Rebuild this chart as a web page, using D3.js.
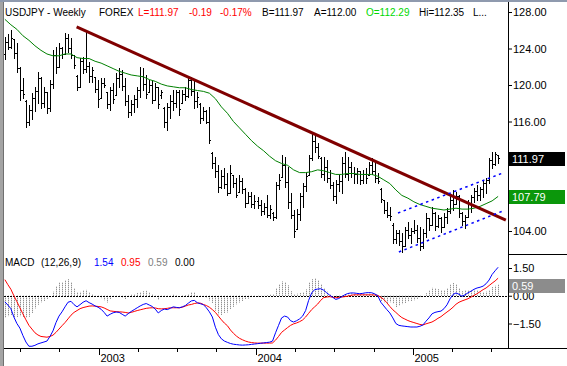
<!DOCTYPE html>
<html>
<head>
<meta charset="utf-8">
<script src="https://cdn.jsdelivr.net/npm/d3@7"></script>
<style>
  body { margin: 0; background: #fff; }
  svg { display: block; font-family: "Liberation Sans", Arial, sans-serif; }
</style>
</head>
<body>
<div id="chart"></div>
<script>
// weekly USDJPY bars, first bar is the week of 2002-05-27
var firstWeek = '2002-05-27';

var high = [125.3,125.6,126.0,125.0,124.6,122.0,120.8,118.4,117.8,119.1,
  119.8,121.4,120.9,119.8,119.2,120.5,123.8,124.2,124.6,124.2,
  125.7,125.6,125.2,123.3,121.1,123.0,123.1,125.9,122.5,122.0,
  120.9,120.5,120.8,120.8,119.2,119.8,120.2,121.3,121.9,121.6,
  120.8,118.9,118.4,118.9,119.8,122.0,121.9,121.1,120.5,120.5,
  120.2,119.8,119.5,117.6,118.0,118.9,119.5,119.5,119.5,119.5,
  119.8,121.0,120.9,120.5,119.2,118.0,117.6,117.3,117.6,112.7,
  112.1,111.2,110.7,110.9,110.4,111.2,110.1,109.8,110.1,109.8,
  108.7,108.3,108.3,107.9,107.7,107.4,107.1,107.9,106.8,106.1,
  109.4,110.3,112.3,112.1,111.0,108.2,106.3,106.4,108.2,109.3,
  110.4,112.3,114.8,114.5,113.6,112.1,112.1,111.8,110.7,109.4,
  109.6,110.1,112.1,112.7,112.1,111.6,111.0,110.9,110.6,110.7,
  110.9,111.6,112.0,111.6,110.4,108.7,107.4,107.2,106.6,104.9,
  104.1,104.1,103.8,104.4,105.0,104.3,105.2,104.7,104.4,104.2,
  106.0,105.4,106.6,106.1,105.8,105.5,106.0,106.5,108.0,108.5,
  108.3,108.0,106.1,105.8,107.4,108.0,108.7,109.0,108.8,109.6,
  109.8,112.0,112.7,112.7,112.35];

var low = [122.8,123.9,124.1,123.0,121.4,118.4,118.6,115.4,115.6,116.3,
  117.2,118.0,117.5,117.6,116.9,117.2,119.7,121.3,122.0,123.0,
  123.4,123.6,123.0,121.9,119.5,119.8,121.3,121.4,120.3,120.3,
  119.2,117.6,118.6,119.8,117.5,117.3,118.0,118.9,119.8,119.5,
  117.8,116.5,116.7,117.0,117.6,118.7,119.5,118.6,119.2,118.0,
  118.4,117.5,118.6,115.4,115.1,116.4,117.3,117.6,116.7,118.0,
  118.4,118.7,118.9,117.5,117.6,115.8,116.2,115.8,113.6,110.9,
  109.9,108.3,108.7,108.7,107.9,108.2,108.8,107.7,108.3,108.2,
  106.6,107.1,106.6,106.5,106.5,105.8,105.9,105.5,105.4,105.2,
  105.4,108.6,109.9,108.8,106.5,105.4,103.3,104.2,105.2,106.6,
  108.4,110.1,111.8,112.7,112.0,109.9,109.6,109.4,108.7,107.4,
  107.1,108.4,108.2,109.9,109.6,109.9,109.3,109.3,109.1,109.3,
  109.3,110.1,110.3,109.4,109.3,107.2,106.0,105.5,105.2,102.7,
  102.7,102.5,101.7,102.4,103.2,102.7,103.8,102.8,101.9,102.1,
  103.3,104.1,104.7,104.1,104.4,103.9,104.4,104.9,106.0,106.3,
  107.0,105.5,104.7,104.3,105.5,106.1,107.2,107.4,107.4,107.7,
  108.2,109.3,110.9,111.2,111.5];

var open = [123.4,124.7,124.2,125.0,123.5,121.9,119.5,118.2,116.0,117.3,
  118.6,119.3,120.8,118.0,119.2,117.5,120.1,123.3,122.0,124.1,
  123.4,125.1,124.0,123.3,121.0,119.8,122.6,121.8,122.1,121.0,
  120.9,119.6,118.6,120.2,119.2,117.9,119.4,118.9,120.8,121.2,
  119.9,118.2,117.0,117.9,118.5,119.5,121.0,120.1,119.2,120.0,
  118.4,119.8,118.9,117.5,116.0,117.6,118.3,118.0,119.2,118.0,
  119.0,118.8,120.6,119.3,118.2,117.9,116.4,117.2,116.0,112.5,
  111.5,110.6,108.8,110.0,109.1,108.2,110.1,109.3,108.3,109.5,
  108.6,107.1,107.8,107.0,107.3,106.8,106.2,106.6,105.8,106.0,
  105.5,109.0,109.9,111.2,109.4,107.2,105.8,104.2,105.9,107.8,
  108.9,110.1,112.0,113.9,113.2,112.0,110.3,111.0,109.8,109.0,
  107.8,109.1,109.5,111.5,110.3,111.0,110.4,110.2,110.6,109.6,
  110.3,110.1,111.2,110.6,109.8,108.6,107.4,106.3,105.8,104.7,
  103.1,103.8,102.9,102.4,104.1,103.6,104.0,104.1,103.2,102.4,
  103.8,105.4,104.7,106.0,104.6,105.4,104.4,105.5,106.2,107.4,
  107.0,107.8,106.0,105.1,105.5,107.1,107.7,108.4,108.0,108.6,
  109.3,109.6,111.8,111.3,112.29];

var close = [124.7,124.2,125.2,123.5,121.9,119.5,119.0,116.0,117.3,118.6,
  119.3,120.8,118.0,119.2,117.5,120.1,123.3,122.0,124.1,123.4,
  125.1,124.0,123.3,122.2,119.8,122.6,121.8,122.1,121.0,121.6,
  119.6,118.5,120.2,120.0,117.9,119.4,118.5,120.8,121.2,119.9,
  118.2,117.0,117.9,118.5,119.5,121.0,120.1,119.0,120.0,118.4,
  119.8,117.9,119.2,116.0,117.6,118.3,118.0,119.2,117.4,119.0,
  118.8,120.6,119.3,118.2,118.7,116.4,117.2,116.0,114.0,111.5,
  110.6,108.8,110.0,109.1,108.2,110.4,109.3,108.0,109.5,108.6,
  107.1,107.8,107.0,107.3,106.8,106.2,106.6,105.8,106.4,105.5,
  109.0,109.6,111.2,109.4,107.2,105.8,104.0,105.9,107.8,108.9,
  110.0,112.0,113.9,113.2,112.2,110.3,111.0,109.8,109.0,107.8,
  109.1,109.5,111.5,110.3,111.0,110.4,110.2,110.6,109.6,110.3,
  109.8,111.2,110.6,109.8,109.5,107.5,106.3,105.8,105.6,103.1,
  103.8,102.9,102.4,104.1,103.6,104.0,104.1,103.2,102.4,103.8,
  105.4,104.7,106.0,104.6,105.4,104.4,105.5,106.2,107.4,107.0,
  107.8,106.0,105.1,105.5,107.1,107.7,108.4,108.0,108.6,109.3,
  109.6,111.8,111.3,112.4,111.97];

// green moving average, read every 2nd week
var maEvery = 2;
var ma = [127.2,126.6,126.1,125.4,124.9,124.3,123.8,123.4,123.2,123.2,
  123.4,123.4,123.0,122.9,122.9,122.6,122.4,122.1,121.8,121.5,
  121.3,121.1,121.0,120.9,120.6,120.4,120.1,119.9,119.8,119.7,
  119.7,119.5,119.4,119.3,119.1,118.5,117.6,116.9,116.0,115.3,
  114.6,113.9,113.3,112.8,112.2,111.7,111.4,111.2,110.7,110.4,
  110.4,110.5,110.7,110.6,110.4,110.2,110.2,110.3,110.3,110.2,
  110.2,110.2,110.0,109.6,109.2,108.5,107.9,107.6,107.2,106.9,
  106.7,106.5,106.4,106.3,106.4,106.5,106.4,106.4,106.5,106.7,
  107.0,107.3,107.79];

// MACD (12,26,9) line and signal, weekly
var macd = [-0.33,-0.5,-0.7,-1.15,-1.5,-1.75,-2.15,-2.5,-2.73,-2.73,
  -2.68,-2.6,-2.55,-2.5,-2.45,-2.2,-1.9,-1.45,-1.1,-0.87,
  -0.6,-0.35,-0.3,-0.48,-0.6,-0.48,-0.35,-0.27,-0.37,-0.45,
  -0.55,-0.62,-0.73,-0.9,-1.1,-1.0,-0.92,-0.88,-0.9,-1.0,
  -1.1,-0.97,-0.85,-0.75,-0.65,-0.55,-0.47,-0.42,-0.5,-0.58,
  -0.72,-0.93,-0.8,-0.72,-0.75,-0.68,-0.6,-0.63,-0.65,-0.6,
  -0.53,-0.4,-0.28,-0.25,-0.38,-0.43,-0.48,-0.65,-0.87,-1.15,
  -1.7,-2.1,-2.33,-2.45,-2.52,-2.58,-2.62,-2.64,-2.66,-2.67,
  -2.66,-2.65,-2.63,-2.61,-2.59,-2.57,-2.55,-2.53,-2.51,-2.45,
  -2.0,-1.6,-1.2,-1.1,-1.15,-1.35,-1.42,-1.35,-1.25,-1.1,
  -0.8,-0.25,0.15,0.33,0.36,0.38,0.3,0.16,0.03,-0.08,
  -0.2,-0.15,-0.05,0.05,0.12,0.15,0.15,0.13,0.11,0.13,
  0.16,0.17,0.16,0.1,0.0,-0.35,-0.55,-0.75,-0.93,-1.2,
  -1.5,-1.6,-1.63,-1.65,-1.67,-1.69,-1.69,-1.69,-1.65,-1.58,
  -1.38,-1.2,-0.98,-0.9,-0.86,-0.83,-0.7,-0.49,-0.17,0.07,
  0.15,0.08,-0.03,0.05,0.16,0.25,0.35,0.42,0.46,0.52,
  0.65,0.85,1.15,1.35,1.54];

var signal = [0.87,0.6,0.35,0.0,-0.32,-0.65,-0.98,-1.3,-1.6,-1.8,
  -2.0,-2.12,-2.2,-2.22,-2.24,-2.2,-2.13,-1.98,-1.8,-1.62,
  -1.45,-1.25,-1.05,-0.9,-0.8,-0.7,-0.64,-0.6,-0.56,-0.55,
  -0.56,-0.58,-0.6,-0.66,-0.74,-0.82,-0.84,-0.86,-0.87,-0.88,
  -0.9,-0.93,-0.9,-0.85,-0.8,-0.76,-0.72,-0.68,-0.66,-0.65,
  -0.66,-0.7,-0.71,-0.7,-0.68,-0.65,-0.65,-0.65,-0.65,-0.62,
  -0.56,-0.5,-0.47,-0.42,-0.39,-0.4,-0.47,-0.53,-0.62,-0.75,
  -0.9,-1.1,-1.3,-1.48,-1.62,-1.85,-2.03,-2.18,-2.3,-2.38,
  -2.45,-2.5,-2.53,-2.55,-2.56,-2.56,-2.56,-2.56,-2.56,-2.55,
  -2.4,-2.2,-1.98,-1.85,-1.72,-1.6,-1.52,-1.47,-1.4,-1.31,
  -1.15,-0.95,-0.75,-0.6,-0.45,-0.25,-0.1,-0.07,-0.05,-0.08,
  -0.11,-0.09,-0.07,-0.05,-0.02,0.02,0.05,0.05,0.05,0.05,
  0.05,0.05,0.05,0.04,0.02,-0.08,-0.2,-0.38,-0.58,-0.76,
  -0.9,-1.05,-1.18,-1.26,-1.34,-1.4,-1.45,-1.5,-1.55,-1.58,
  -1.52,-1.47,-1.42,-1.33,-1.22,-1.13,-1.0,-0.88,-0.76,-0.62,
  -0.46,-0.35,-0.28,-0.22,-0.16,-0.07,0.02,0.11,0.22,0.33,
  0.42,0.55,0.68,0.8,0.95];

// drawn lines: [date, price]
var trendLine = [['2002-11-10', 126.36], ['2005-08-05', 105.2]];
var channelUpper = [['2004-11-27', 105.97], ['2005-07-29', 110.36]];
var channelLower = [['2004-11-29', 101.7], ['2005-07-29', 106.19]];

// 112.00 sits fully under the last price box, so only its tick shows
var priceTicks = [128, 124, 120, 116, 112, 108, 104];
var priceLabels = ['128.00', '124.00', '120.00', '116.00', '', '108.00', '104.00'];
var macdTicks = [1.5, 0, -1.5];

var titleParts = ['USDJPY - Weekly', 'FOREX', 'L=111.97', '-0.19', '-0.17%', 'B=111.97', 'A=112.00', 'O=112.29', 'Hi=112.35', 'L...'];
var titleColors = ['#000', '#000', '#f00', '#f00', '#f00', '#000', '#000', '#00d800', '#000', '#000'];
var titleX = [5, 99, 138, 189, 220, 262, 314, 366, 419, 473];

var macdParts = ['MACD', '(12,26,9)', '1.54', '0.95', '0.59', '0.00'];
var macdColors = ['#000', '#000', '#00f', '#f00', '#808080', '#000'];
var macdX = [5, 41, 94, 121, 148, 175];

var lastPrice = 111.97, lastMa = 107.79, lastHist = 0.59;

var width = 567, height = 366;
var svg = d3.select('#chart').append('svg')
  .attr('width', width)
  .attr('height', height);

var parse = d3.timeParse('%Y-%m-%d');
var start = parse(firstWeek);
var dates = close.map(function(d, i) { return d3.timeDay.offset(start, 7 * i); });

var x = d3.scaleTime()
  .domain([parse('2002-05-25'), parse('2005-08-10')])
  .range([4, 508]);
var y = d3.scaleLinear().domain([104, 128]).range([231, 12]);
var ym = d3.scaleLinear().domain([-1.5, 1.5]).range([323.5, 268]);

function px(d) { return Math.round(x(d)); }

// frame bits
svg.append('rect').attr('x', 0).attr('y', 0).attr('width', 3).attr('height', height).attr('fill', '#a4a4a4');
svg.append('line').attr('x1', 3.5).attr('x2', 3.5).attr('y1', 0).attr('y2', height).attr('stroke', '#707070');
svg.append('rect').attr('x', 0).attr('y', 0).attr('width', width).attr('height', 2).attr('fill', '#8f9aae');

// MACD histogram (dotted grey like the original)
var hist = svg.append('g').attr('class', 'hist');
dates.forEach(function(d, i) {
  var v = macd[i] - signal[i];
  hist.append('line')
    .attr('x1', px(d) + 0.5).attr('x2', px(d) + 0.5)
    .attr('y1', ym(0)).attr('y2', ym(v))
    .attr('stroke', '#6e6e6e').attr('stroke-width', 1)
    .attr('stroke-dasharray', '1,1');
});

// zero line
svg.append('line')
  .attr('x1', 4).attr('x2', 508)
  .attr('y1', Math.round(ym(0)) + 0.5).attr('y2', Math.round(ym(0)) + 0.5)
  .attr('stroke', '#000').attr('stroke-dasharray', '2,1');

var mline = d3.line()
  .x(function(d, i) { return x(dates[i]); })
  .y(function(d) { return ym(d); });

svg.append('path').datum(signal)
  .attr('d', mline).attr('fill', 'none').attr('stroke', '#f00').attr('stroke-width', 1);
svg.append('path').datum(macd)
  .attr('d', mline).attr('fill', 'none').attr('stroke', '#00f').attr('stroke-width', 1);

// OHLC bars
var bars = svg.append('g').attr('class', 'bars').attr('fill', '#000');
dates.forEach(function(d, i) {
  var bx = px(d);
  var yh = Math.round(y(high[i])), yl = Math.round(y(low[i]));
  bars.append('rect').attr('x', bx).attr('y', yh).attr('width', 1).attr('height', Math.max(1, yl - yh + 1));
  bars.append('rect').attr('x', bx - 1).attr('y', Math.round(y(open[i]))).attr('width', 1).attr('height', 1);
  bars.append('rect').attr('x', bx + 1).attr('y', Math.round(y(close[i]))).attr('width', 1).attr('height', 1);
});

// moving average
svg.append('path').datum(ma)
  .attr('d', d3.line()
    .x(function(d, i) { return x(dates[i * maEvery]); })
    .y(function(d) { return y(d); }))
  .attr('fill', 'none').attr('stroke', '#008000').attr('stroke-width', 1);

// trend line and channel
var pline = d3.line()
  .x(function(d) { return x(parse(d[0])); })
  .y(function(d) { return y(d[1]); });

svg.append('path').datum(trendLine)
  .attr('d', pline).attr('stroke', '#800000').attr('stroke-width', 3).attr('fill', 'none');
[channelUpper, channelLower].forEach(function(c) {
  svg.append('path').datum(c)
    .attr('d', pline).attr('stroke', '#0000ff').attr('stroke-width', 1.5)
    .attr('stroke-dasharray', '2.5,3.5').attr('fill', 'none');
});

// right axes
var priceAxis = svg.append('g')
  .attr('transform', 'translate(508,0)')
  .call(d3.axisRight(y).tickValues(priceTicks).tickSize(4).tickPadding(1)
    .tickFormat(function(d, i) { return priceLabels[i]; }));
var macdAxis = svg.append('g')
  .attr('transform', 'translate(508,0)')
  .call(d3.axisRight(ym).tickValues(macdTicks).tickSize(4).tickPadding(1).tickFormat(d3.format('.2f')));
[priceAxis, macdAxis].forEach(function(a) {
  a.select('.domain').remove();
  a.selectAll('line').attr('stroke', '#000');
  a.selectAll('text').attr('fill', '#000').attr('font-size', 11)
    .attr('font-family', '"Liberation Sans", Arial, sans-serif');
});

svg.append('line').attr('x1', 508.5).attr('x2', 508.5).attr('y1', 2).attr('y2', 348).attr('stroke', '#000');
svg.append('line').attr('x1', 508).attr('x2', width).attr('y1', 254.5).attr('y2', 254.5).attr('stroke', '#000');
svg.append('line').attr('x1', 4).attr('x2', width).attr('y1', 348.5).attr('y2', 348.5).attr('stroke', '#000');

// bottom time axis
var qTicks = d3.timeMonth.every(3).range(parse('2002-06-01'), parse('2005-08-01'));
var xg = svg.append('g');
qTicks.forEach(function(t) {
  var tx = px(t) + 0.5;
  var isYear = t.getMonth() === 0;
  xg.append('line').attr('x1', tx).attr('x2', tx)
    .attr('y1', 348).attr('y2', isYear ? 355 : 352).attr('stroke', '#000');
  if (isYear) {
    xg.append('text').attr('x', tx + 1).attr('y', 362)
      .attr('font-size', 11).attr('fill', '#000')
      .text(d3.timeFormat('%Y')(t));
  }
});

// last value boxes
function valueBox(yy, label, fill) {
  var cy = Math.round(yy) + 1;
  svg.append('rect').attr('x', 509).attr('y', cy - 7).attr('width', 56).attr('height', 14).attr('fill', fill);
  svg.append('text').attr('x', 512).attr('y', cy + 4).attr('fill', '#fff')
    .attr('font-size', 11).text(label);
}
valueBox(y(lastPrice), d3.format('.2f')(lastPrice), '#000');
valueBox(y(lastMa), d3.format('.2f')(lastMa), '#0b970b');
valueBox(ym(lastHist), d3.format('.2f')(lastHist), '#8c8c8c');

// header texts
titleParts.forEach(function(t, i) {
  svg.append('text').attr('x', titleX[i]).attr('y', 16)
    .attr('font-size', 10).attr('fill', titleColors[i]).text(t);
});
macdParts.forEach(function(t, i) {
  svg.append('text').attr('x', macdX[i]).attr('y', 266)
    .attr('font-size', 10).attr('fill', macdColors[i]).text(t);
});
</script>
</body>
</html>
